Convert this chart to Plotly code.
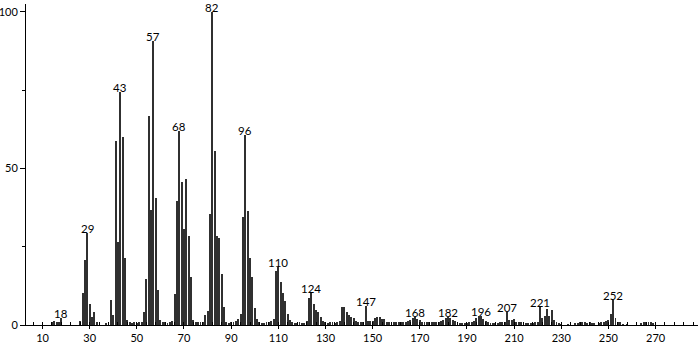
import plotly.graph_objects as go

mz = [14, 15, 16, 17, 18, 26, 27, 28, 29, 30, 31, 32, 33, 37, 38, 39, 40,
      41, 42, 43, 44, 45, 46, 47, 48, 49, 50, 51, 52, 53, 54, 55, 56, 57, 58,
      59, 60, 61, 62, 63, 64, 65, 66, 67, 68, 69, 70, 71, 72, 73, 74, 75, 76,
      77, 78, 79, 80, 81, 82, 83, 84, 85, 86, 87, 88, 89, 90, 91, 92, 93, 94,
      95, 96, 97, 98, 99, 100, 101, 102, 103, 104, 105, 106, 107, 108, 109,
      110, 111, 112, 113, 114, 115, 116, 117, 118, 119, 120, 121, 122, 123,
      124, 125, 126, 127, 128, 129, 130, 131, 132, 133, 134, 135, 136, 137,
      138, 139, 140, 141, 142, 143, 144, 145, 146, 147, 148, 149, 150, 151,
      152, 153, 154, 155, 156, 157, 158, 159, 160, 161, 162, 163, 164, 165,
      166, 167, 168, 169, 170, 171, 172, 173, 174, 175, 176, 177, 178, 179,
      180, 181, 182, 183, 184, 185, 186, 187, 188, 189, 190, 191, 192, 193,
      194, 195, 196, 197, 198, 199, 200, 201, 202, 203, 204, 205, 206, 207,
      208, 209, 210, 211, 212, 213, 214, 215, 216, 217, 218, 219, 220, 221,
      222, 223, 224, 225, 226, 227, 228, 229, 230, 233, 236, 237, 238, 239,
      240, 241, 242, 243, 244, 246, 247, 248, 249, 250, 251, 252, 253, 254,
      255, 256, 258, 264, 265, 266, 267, 268, 269]

intensity = [0.8, 1.2, 1.0, 1.0, 2.1, 1.2, 10.3, 20.6, 29.4, 6.7, 2.5, 4.1, 1.0, 0.5, 1.0, 7.9, 3.1,
             58.8, 26.6, 74.5, 59.9, 21.5, 1.5, 0.8, 0.6, 0.8, 0.5, 0.8, 1.0, 4.1, 14.6, 66.8, 36.8, 90.8, 40.6,
             11.3, 1.5, 1.0, 0.8, 0.6, 0.8, 1.2, 10.0, 39.7, 61.8, 45.8, 30.8, 46.5, 28.5, 15.4, 1.7, 1.0, 0.8,
             1.0, 0.8, 3.2, 4.6, 35.5, 100.0, 55.6, 28.3, 27.7, 16.3, 5.7, 0.8, 0.6, 0.8, 1.0, 1.2, 1.9, 3.5,
             34.4, 60.7, 36.5, 21.3, 15.2, 5.3, 1.9, 0.8, 0.7, 0.6, 0.8, 0.8, 1.3, 1.9, 17.4,
             18.4, 13.6, 10.2, 7.8, 3.5, 1.5, 0.8, 0.7, 0.6, 0.8, 0.7, 0.7, 1.2, 8.5,
             10.1, 6.7, 4.9, 4.3, 2.5, 1.4, 0.8, 0.7, 0.8, 0.8, 0.7, 1.0, 1.2, 5.8,
             5.8, 4.2, 3.2, 2.7, 2.2, 1.2, 1.0, 1.0, 0.8, 6.2, 1.4, 1.3, 1.3, 2.2,
             2.4, 2.4, 1.9, 1.9, 1.0, 0.8, 1.0, 0.8, 0.8, 0.9, 0.8, 0.9, 1.0, 1.4,
             1.7, 2.1, 2.4, 1.9, 1.5, 1.0, 0.9, 0.8, 0.9, 0.8, 0.8, 0.9, 1.0, 1.3,
             1.7, 2.1, 2.4, 2.1, 1.7, 1.3, 0.8, 0.6, 0.5, 0.6, 0.6, 1.0, 1.0, 1.3,
             2.1, 2.8, 2.8, 1.9, 1.3, 1.0, 0.5, 0.4, 0.5, 0.5, 0.8, 1.0, 1.0, 4.1,
             1.5, 1.7, 1.9, 1.0, 1.0, 0.9, 1.0, 0.5, 0.4, 0.4, 0.5, 0.8, 0.8, 5.7,
             2.2, 3.0, 5.1, 3.0, 4.8, 1.7, 0.8, 0.4, 0.3, 0.3, 0.5, 0.6, 0.8, 0.8,
             0.8, 0.6, 0.8, 0.6, 0.5, 0.5, 0.8, 1.0, 1.3, 1.5, 3.5, 8.0, 2.2, 1.0,
             1.0, 0.3, 0.3, 0.5, 0.8, 1.0, 1.0, 0.8, 0.5]

labeled_peaks = [18, 29, 43, 57, 68, 82, 96, 110, 124, 147, 168, 182, 196, 207, 221, 252]

x_ticks = [10, 30, 50, 70, 90, 110, 130, 150, 170, 190, 210, 230, 250, 270]
y_ticks = [0, 50, 100]

FONT = "Lato"

fig = go.Figure()
fig.add_trace(go.Bar(
    x=mz, y=intensity, width=0.4,
    marker=dict(color="#303030", line=dict(width=0)),
    hoverinfo="x+y",
))

lookup = dict(zip(mz, intensity))
for p in labeled_peaks:
    fig.add_annotation(
        x=p, y=lookup[p], text=str(p), showarrow=False,
        yanchor="bottom", xanchor="center", yshift=-3, borderpad=0,
        font=dict(family=FONT, size=11.5, color="black"),
    )

fig.update_layout(
    width=698, height=344,
    margin=dict(l=26, r=0, t=4, b=19),
    paper_bgcolor="white", plot_bgcolor="white",
    showlegend=False, bargap=0,
    font=dict(family=FONT, size=11, color="black"),
)
fig.update_xaxes(
    range=[3, 288], showgrid=False, zeroline=False, automargin=False,
    showline=True, linecolor="black", linewidth=1,
    tickmode="array", tickvals=x_ticks, ticktext=[str(v) for v in x_ticks],
    ticks="outside", ticklen=3, tickcolor="black", tickwidth=1,
    minor=dict(tick0=10, dtick=4, ticks="inside", ticklen=3, tickcolor="black", tickwidth=1, showgrid=False),
    tickfont=dict(family=FONT, size=11), ticklabelstandoff=0,
)
fig.update_yaxes(
    range=[0, 102.5], showgrid=False, zeroline=False, automargin=False,
    showline=True, linecolor="black", linewidth=1,
    tickmode="array", tickvals=y_ticks, ticktext=[str(v) for v in y_ticks],
    ticks="outside", ticklen=5, tickcolor="black", tickwidth=1,
    minor=dict(tick0=0, dtick=25, ticks="outside", ticklen=3, tickcolor="black", tickwidth=1, showgrid=False),
    tickfont=dict(family=FONT, size=11), ticklabelstandoff=0,
)

fig.write_html("out.html")
